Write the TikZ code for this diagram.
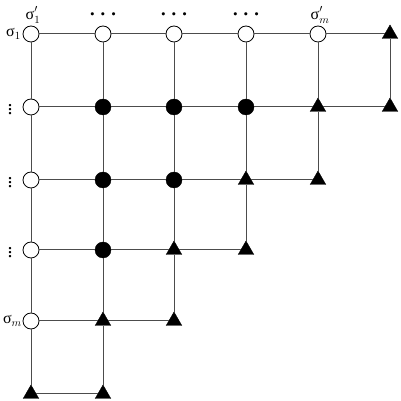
\documentclass[tikz,border=0pt]{standalone}
\usepackage{fontspec}
\setmainfont{Liberation Serif}
\usetikzlibrary{shapes.geometric}
\begin{document}
\begin{tikzpicture}[x=1pt,y=1pt,
  grid/.style={draw=black!70,line width=1pt},
  opn/.style={circle,draw=black,line width=0.8pt,fill=white,minimum size=16pt,inner sep=0pt},
  fld/.style={circle,draw=black,fill=black,minimum size=16pt,inner sep=0pt},
  tri/.style={regular polygon,regular polygon sides=3,fill=black,draw=black,minimum size=18pt,inner sep=0pt},
  lbl/.style={inner sep=0pt,font=\fontsize{16}{18}\selectfont},
  dts/.style={inner sep=0pt,font=\fontsize{20}{22}\selectfont\boldmath}]
\useasboundingbox (0,0) rectangle (400,401);
% columns 31,103,174,246,318,390 ; rows (px) 34,107,180,250,321,394
\def\ya{367}\def\yb{294}\def\yc{221}\def\yd{151}\def\ye{80}\def\yf{7}
% row 0
\node[opn] (a1) at (31,\ya) {};
\node[opn] (a2) at (103,\ya) {};
\node[opn] (a3) at (174,\ya) {};
\node[opn] (a4) at (246,\ya) {};
\node[opn] (a5) at (318,\ya) {};
\node[tri] (a6) at (390,\ya) {};
% row 1
\node[opn] (b1) at (31,\yb) {};
\node[fld] (b2) at (103,\yb) {};
\node[fld] (b3) at (174,\yb) {};
\node[fld] (b4) at (246,\yb) {};
\node[tri] (b5) at (318,\yb) {};
\node[tri] (b6) at (390,\yb) {};
% row 2
\node[opn] (c1) at (31,\yc) {};
\node[fld] (c2) at (103,\yc) {};
\node[fld] (c3) at (174,\yc) {};
\node[tri] (c4) at (246,\yc) {};
\node[tri] (c5) at (318,\yc) {};
% row 3
\node[opn] (d1) at (31,\yd) {};
\node[fld] (d2) at (103,\yd) {};
\node[tri] (d3) at (174,\yd) {};
\node[tri] (d4) at (246,\yd) {};
% row 4
\node[opn] (e1) at (31,\ye) {};
\node[tri] (e2) at (103,\ye) {};
\node[tri] (e3) at (174,\ye) {};
% row 5
\node[tri] (f1) at (31,\yf) {};
\node[tri] (f2) at (103,\yf) {};
% horizontal
\draw[grid] (a1)--(a2) (a2)--(a3) (a3)--(a4) (a4)--(a5) (a5)--(a6);
\draw[grid] (b1)--(b2) (b2)--(b3) (b3)--(b4) (b4)--(b5) (b5)--(b6);
\draw[grid] (c1)--(c2) (c2)--(c3) (c3)--(c4) (c4)--(c5);
\draw[grid] (d1)--(d2) (d2)--(d3) (d3)--(d4);
\draw[grid] (e1)--(e2) (e2)--(e3);
\draw[grid] (f1)--(f2);
% vertical
\draw[grid] (a1)--(b1) (b1)--(c1) (c1)--(d1) (d1)--(e1) (e1)--(f1);
\draw[grid] (a2)--(b2) (b2)--(c2) (c2)--(d2) (d2)--(e2) (e2)--(f2);
\draw[grid] (a3)--(b3) (b3)--(c3) (c3)--(d3) (d3)--(e3);
\draw[grid] (a4)--(b4) (b4)--(c4) (c4)--(d4);
\draw[grid] (a5)--(b5) (b5)--(c5);
\draw[grid] (a6)--(b6);
% labels
\node[lbl] (t1) at (33,386) {σ$'_{1}$};
\node[dts] (t2) at (103,386) {$\cdots$};
\node[dts] (t3) at (174,386) {$\cdots$};
\node[dts] (t4) at (246,386) {$\cdots$};
\node[lbl] (t5) at (320,386) {σ$'_{m}$};
\node[lbl,anchor=east] (s1) at (21,367) {σ$_{1}$};
\node[dts] (v1) at (10,294) {$\vdots$};
\node[dts] (v2) at (10,221) {$\vdots$};
\node[dts] (v3) at (10,151) {$\vdots$};
\node[lbl,anchor=east] (s2) at (22,80) {σ$_{m}$};
\end{tikzpicture}
\end{document}
